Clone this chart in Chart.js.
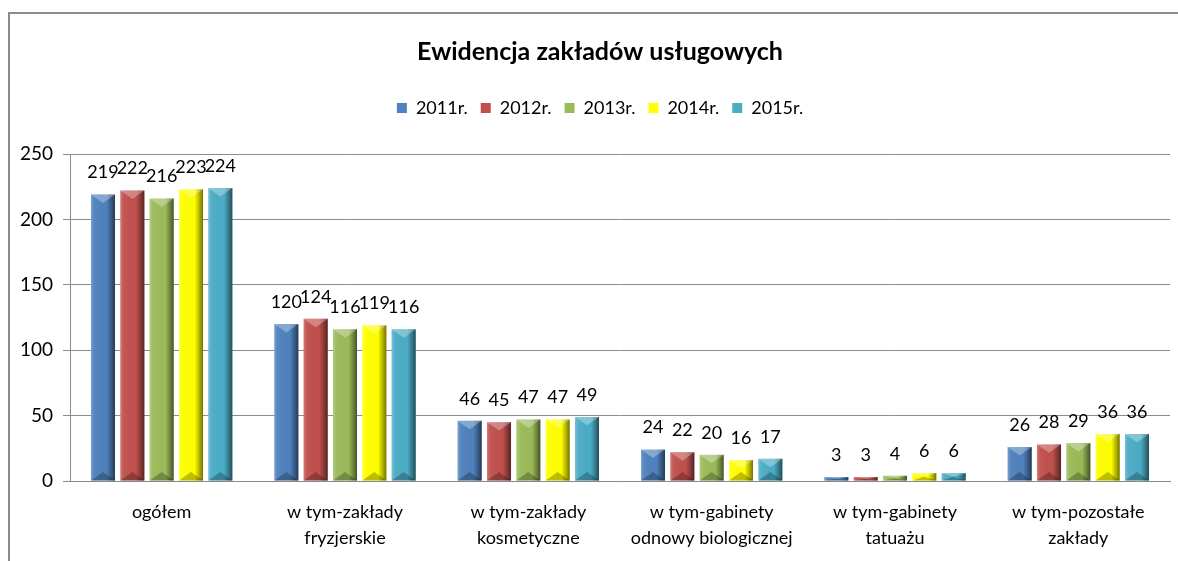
<!DOCTYPE html>
<html>
<head>
<meta charset="utf-8">
<script src="https://cdn.jsdelivr.net/npm/chart.js@4.4.0/dist/chart.umd.min.js"></script>
<style>
  html, body { margin: 0; padding: 0; background: #fff; overflow: hidden; }
  #wrap { position: relative; width: 1178px; height: 561px; overflow: hidden; }
  #frame { position: absolute; left: 8px; top: 12px; width: 1400px; height: 800px; border: 2px solid #8c8c8c; border-right: none; border-bottom: none; box-sizing: border-box; }
  canvas { position: absolute; left: 0; top: 0; }
</style>
</head>
<body>
<div id="wrap">
  <div id="frame"></div>
  <canvas id="chart" width="1178" height="561"></canvas>
</div>
<script>
// kategorie i dane
const categories = [
  "ogółem",
  ["w tym-zakłady", "fryzjerskie"],
  ["w tym-zakłady", "kosmetyczne"],
  ["w tym-gabinety", "odnowy biologicznej"],
  ["w tym-gabinety", "tatuażu"],
  ["w tym-pozostałe", "zakłady"]
];
const years = ["2011r.", "2012r.", "2013r.", "2014r.", "2015r."];
const v2011 = [219, 120, 46, 24, 3, 26];
const v2012 = [222, 124, 45, 22, 3, 28];
const v2013 = [216, 116, 47, 20, 4, 29];
const v2014 = [223, 119, 47, 16, 6, 36];
const v2015 = [224, 116, 49, 17, 6, 36];
const yTicks = [0, 50, 100, 150, 200, 250];

const colors = ["#4f81bd", "#c0504d", "#9bbb59", "#ffff00", "#4bacc6"];
const FONT = "Lato, 'Open Sans', sans-serif";

// efekt wypukłego słupka
const bevel = {
  id: "bevel",
  afterDatasetsDraw(chart) {
    const ctx = chart.ctx;
    chart.data.datasets.forEach((ds, i) => {
      chart.getDatasetMeta(i).data.forEach(bar => {
        const l = bar.x - bar.width / 2, r = bar.x + bar.width / 2;
        const t = bar.y, b = bar.base, w = bar.width;
        if (b - t < 1) return;
        ctx.save();
        const g = ctx.createLinearGradient(l, 0, r, 0);
        g.addColorStop(0, "rgba(255,255,255,0.25)");
        g.addColorStop(0.12, "rgba(255,255,255,0.05)");
        g.addColorStop(0.65, "rgba(0,0,0,0)");
        g.addColorStop(0.85, "rgba(0,0,0,0.3)");
        g.addColorStop(1, "rgba(0,0,0,0.55)");
        ctx.fillStyle = g;
        ctx.fillRect(l, t, w, b - t);
        const h = Math.min(w * 0.35, (b - t) / 2);
        ctx.fillStyle = "rgba(255,255,255,0.3)";
        ctx.beginPath();
        ctx.moveTo(l, t); ctx.lineTo(r, t); ctx.lineTo(bar.x, t + h); ctx.closePath();
        ctx.fill();
        ctx.fillStyle = "rgba(0,0,0,0.25)";
        ctx.beginPath();
        ctx.moveTo(l, b); ctx.lineTo(r, b); ctx.lineTo(bar.x, b - h); ctx.closePath();
        ctx.fill();
        ctx.restore();
      });
    });
  }
};

// etykiety wartości
const valueLabels = {
  id: "valueLabels",
  afterDatasetsDraw(chart) {
    const ctx = chart.ctx;
    ctx.save();
    ctx.font = "18px " + FONT;
    ctx.fillStyle = "#000";
    ctx.textAlign = "center";
    ctx.textBaseline = "middle";
    chart.data.datasets.forEach((ds, i) => {
      chart.getDatasetMeta(i).data.forEach((bar, j) => {
        ctx.fillText(ds.data[j], bar.x, bar.y - 22);
      });
    });
    ctx.restore();
  }
};

// odstęp pod legendą
const legendGap = {
  id: "legendGap",
  beforeInit(chart) {
    const fit = chart.legend.fit;
    chart.legend.fit = function () {
      fit.bind(chart.legend)();
      this.height += 27;
    };
  },
  afterLayout(chart) {
    // tytuł i legenda wyśrodkowane nad całą ramką
    chart.titleBlock.left += 20;
    chart.legend.left += 20;
  }
};

const series = [v2011, v2012, v2013, v2014, v2015];

new Chart(document.getElementById("chart"), {
  type: "bar",
  data: {
    labels: categories,
    datasets: series.map((d, i) => ({
      label: years[i],
      data: d,
      backgroundColor: colors[i],
      barPercentage: 0.82,
      categoryPercentage: 0.8
    }))
  },
  options: {
    responsive: false,
    animation: false,
    layout: { padding: { left: 10, right: 8, top: 0, bottom: 0 } },
    plugins: {
      title: {
        display: true,
        text: "Ewidencja zakładów usługowych",
        color: "#000",
        font: { family: FONT, size: 25, weight: "bold" },
        padding: { top: 37, bottom: 19 }
      },
      legend: {
        labels: {
          color: "#000",
          font: { family: FONT, size: 18 },
          boxWidth: 10,
          boxHeight: 10,
          padding: 13
        }
      },
      tooltip: { enabled: false }
    },
    scales: {
      x: {
        grid: { display: false, drawTicks: false },
        border: { color: "#888" },
        ticks: { color: "#000", font: { family: FONT, size: 18, lineHeight: 1.45 }, padding: 18, maxRotation: 0, autoSkip: false },
        afterFit(s) { s.height = 80; }
      },
      y: {
        min: 0,
        max: 250,
        afterBuildTicks(s) { s.ticks = yTicks.map(v => ({ value: v })); },
        grid: { color: "#8c8c8c", tickLength: 7 },
        border: { color: "#8c8c8c" },
        ticks: { color: "#000", font: { family: FONT, size: 19 }, padding: 10 },
        afterFit(s) { s.width = 60; }
      }
    }
  },
  plugins: [legendGap, bevel, valueLabels]
});
</script>
</body>
</html>
